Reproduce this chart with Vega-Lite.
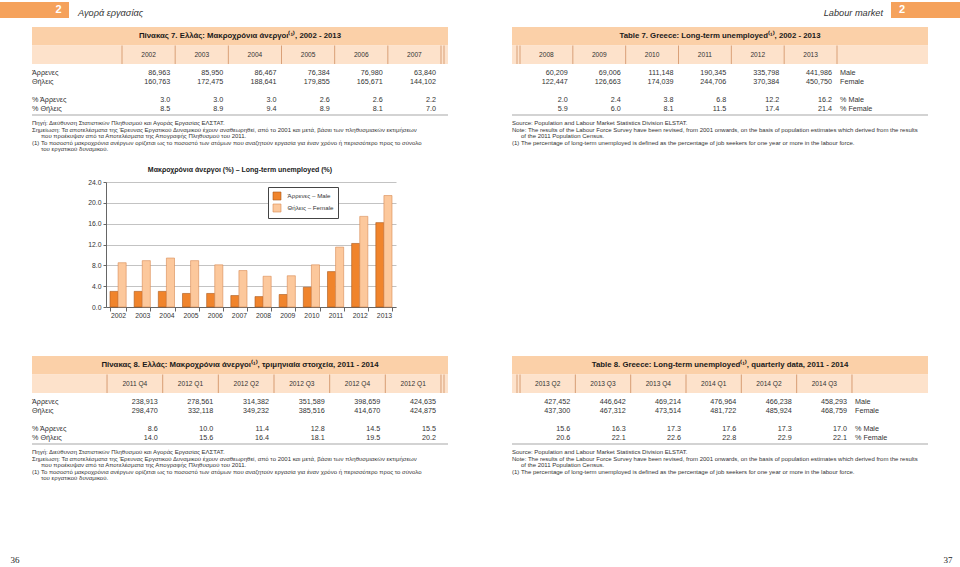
{
"$schema":"https://vega.github.io/schema/vega-lite/v6.json",
"background":"white",
"padding":{"left":0,"top":2,"right":0,"bottom":0},
"spacing":0,
"bounds":"flush",
"config":{"font":"Liberation Sans","view":{"stroke":null}},
"datasets":{
"t7":[
{"s":"el","c":"c1","h":"2002","row":"Άρρενες","v":86963},{"s":"el","c":"c1","h":"2002","row":"Θήλεις","v":160763},{"s":"el","c":"c1","h":"2002","row":"% Άρρενες","v":3.0},{"s":"el","c":"c1","h":"2002","row":"% Θήλεις","v":8.5},
{"s":"el","c":"c2","h":"2003","row":"Άρρενες","v":85950},{"s":"el","c":"c2","h":"2003","row":"Θήλεις","v":172475},{"s":"el","c":"c2","h":"2003","row":"% Άρρενες","v":3.0},{"s":"el","c":"c2","h":"2003","row":"% Θήλεις","v":8.9},
{"s":"el","c":"c3","h":"2004","row":"Άρρενες","v":86467},{"s":"el","c":"c3","h":"2004","row":"Θήλεις","v":188641},{"s":"el","c":"c3","h":"2004","row":"% Άρρενες","v":3.0},{"s":"el","c":"c3","h":"2004","row":"% Θήλεις","v":9.4},
{"s":"el","c":"c4","h":"2005","row":"Άρρενες","v":76384},{"s":"el","c":"c4","h":"2005","row":"Θήλεις","v":179855},{"s":"el","c":"c4","h":"2005","row":"% Άρρενες","v":2.6},{"s":"el","c":"c4","h":"2005","row":"% Θήλεις","v":8.9},
{"s":"el","c":"c5","h":"2006","row":"Άρρενες","v":76980},{"s":"el","c":"c5","h":"2006","row":"Θήλεις","v":165671},{"s":"el","c":"c5","h":"2006","row":"% Άρρενες","v":2.6},{"s":"el","c":"c5","h":"2006","row":"% Θήλεις","v":8.1},
{"s":"el","c":"c6","h":"2007","row":"Άρρενες","v":63840},{"s":"el","c":"c6","h":"2007","row":"Θήλεις","v":144102},{"s":"el","c":"c6","h":"2007","row":"% Άρρενες","v":2.2},{"s":"el","c":"c6","h":"2007","row":"% Θήλεις","v":7.0},
{"s":"en","c":"c1","h":"2008","row":"Άρρενες","v":60209},{"s":"en","c":"c1","h":"2008","row":"Θήλεις","v":122447},{"s":"en","c":"c1","h":"2008","row":"% Άρρενες","v":2.0},{"s":"en","c":"c1","h":"2008","row":"% Θήλεις","v":5.9},
{"s":"en","c":"c2","h":"2009","row":"Άρρενες","v":69006},{"s":"en","c":"c2","h":"2009","row":"Θήλεις","v":126663},{"s":"en","c":"c2","h":"2009","row":"% Άρρενες","v":2.4},{"s":"en","c":"c2","h":"2009","row":"% Θήλεις","v":6.0},
{"s":"en","c":"c3","h":"2010","row":"Άρρενες","v":111148},{"s":"en","c":"c3","h":"2010","row":"Θήλεις","v":174039},{"s":"en","c":"c3","h":"2010","row":"% Άρρενες","v":3.8},{"s":"en","c":"c3","h":"2010","row":"% Θήλεις","v":8.1},
{"s":"en","c":"c4","h":"2011","row":"Άρρενες","v":190345},{"s":"en","c":"c4","h":"2011","row":"Θήλεις","v":244706},{"s":"en","c":"c4","h":"2011","row":"% Άρρενες","v":6.8},{"s":"en","c":"c4","h":"2011","row":"% Θήλεις","v":11.5},
{"s":"en","c":"c5","h":"2012","row":"Άρρενες","v":335798},{"s":"en","c":"c5","h":"2012","row":"Θήλεις","v":370384},{"s":"en","c":"c5","h":"2012","row":"% Άρρενες","v":12.2},{"s":"en","c":"c5","h":"2012","row":"% Θήλεις","v":17.4},
{"s":"en","c":"c6","h":"2013","row":"Άρρενες","v":441986},{"s":"en","c":"c6","h":"2013","row":"Θήλεις","v":450750},{"s":"en","c":"c6","h":"2013","row":"% Άρρενες","v":16.2},{"s":"en","c":"c6","h":"2013","row":"% Θήλεις","v":21.4}
],
"t8":[
{"s":"el","c":"c1","h":"2011 Q4","row":"Άρρενες","v":238913},{"s":"el","c":"c1","h":"2011 Q4","row":"Θήλεις","v":298470},{"s":"el","c":"c1","h":"2011 Q4","row":"% Άρρενες","v":8.6},{"s":"el","c":"c1","h":"2011 Q4","row":"% Θήλεις","v":14.0},
{"s":"el","c":"c2","h":"2012 Q1","row":"Άρρενες","v":278561},{"s":"el","c":"c2","h":"2012 Q1","row":"Θήλεις","v":332118},{"s":"el","c":"c2","h":"2012 Q1","row":"% Άρρενες","v":10.0},{"s":"el","c":"c2","h":"2012 Q1","row":"% Θήλεις","v":15.6},
{"s":"el","c":"c3","h":"2012 Q2","row":"Άρρενες","v":314382},{"s":"el","c":"c3","h":"2012 Q2","row":"Θήλεις","v":349232},{"s":"el","c":"c3","h":"2012 Q2","row":"% Άρρενες","v":11.4},{"s":"el","c":"c3","h":"2012 Q2","row":"% Θήλεις","v":16.4},
{"s":"el","c":"c4","h":"2012 Q3","row":"Άρρενες","v":351589},{"s":"el","c":"c4","h":"2012 Q3","row":"Θήλεις","v":385516},{"s":"el","c":"c4","h":"2012 Q3","row":"% Άρρενες","v":12.8},{"s":"el","c":"c4","h":"2012 Q3","row":"% Θήλεις","v":18.1},
{"s":"el","c":"c5","h":"2012 Q4","row":"Άρρενες","v":398659},{"s":"el","c":"c5","h":"2012 Q4","row":"Θήλεις","v":414670},{"s":"el","c":"c5","h":"2012 Q4","row":"% Άρρενες","v":14.5},{"s":"el","c":"c5","h":"2012 Q4","row":"% Θήλεις","v":19.5},
{"s":"el","c":"c6","h":"2012 Q1","row":"Άρρενες","v":424635},{"s":"el","c":"c6","h":"2012 Q1","row":"Θήλεις","v":424875},{"s":"el","c":"c6","h":"2012 Q1","row":"% Άρρενες","v":15.5},{"s":"el","c":"c6","h":"2012 Q1","row":"% Θήλεις","v":20.2},
{"s":"en","c":"c1","h":"2013 Q2","row":"Άρρενες","v":427452},{"s":"en","c":"c1","h":"2013 Q2","row":"Θήλεις","v":437300},{"s":"en","c":"c1","h":"2013 Q2","row":"% Άρρενες","v":15.6},{"s":"en","c":"c1","h":"2013 Q2","row":"% Θήλεις","v":20.6},
{"s":"en","c":"c2","h":"2013 Q3","row":"Άρρενες","v":446642},{"s":"en","c":"c2","h":"2013 Q3","row":"Θήλεις","v":467312},{"s":"en","c":"c2","h":"2013 Q3","row":"% Άρρενες","v":16.3},{"s":"en","c":"c2","h":"2013 Q3","row":"% Θήλεις","v":22.1},
{"s":"en","c":"c3","h":"2013 Q4","row":"Άρρενες","v":469214},{"s":"en","c":"c3","h":"2013 Q4","row":"Θήλεις","v":473514},{"s":"en","c":"c3","h":"2013 Q4","row":"% Άρρενες","v":17.3},{"s":"en","c":"c3","h":"2013 Q4","row":"% Θήλεις","v":22.6},
{"s":"en","c":"c4","h":"2014 Q1","row":"Άρρενες","v":476964},{"s":"en","c":"c4","h":"2014 Q1","row":"Θήλεις","v":481722},{"s":"en","c":"c4","h":"2014 Q1","row":"% Άρρενες","v":17.6},{"s":"en","c":"c4","h":"2014 Q1","row":"% Θήλεις","v":22.8},
{"s":"en","c":"c5","h":"2014 Q2","row":"Άρρενες","v":466238},{"s":"en","c":"c5","h":"2014 Q2","row":"Θήλεις","v":485924},{"s":"en","c":"c5","h":"2014 Q2","row":"% Άρρενες","v":17.3},{"s":"en","c":"c5","h":"2014 Q2","row":"% Θήλεις","v":22.9},
{"s":"en","c":"c6","h":"2014 Q3","row":"Άρρενες","v":458293},{"s":"en","c":"c6","h":"2014 Q3","row":"Θήλεις","v":468759},{"s":"en","c":"c6","h":"2014 Q3","row":"% Άρρενες","v":17.0},{"s":"en","c":"c6","h":"2014 Q3","row":"% Θήλεις","v":22.1}
],
"labels":[{"row":"Άρρενες","en":"Male"},{"row":"Θήλεις","en":"Female"},{"row":"% Άρρενες","en":"% Male"},{"row":"% Θήλεις","en":"% Female"}],
"titles":[
{"tbl":"7","lang":"el","t":"Πίνακας 7. Ελλάς: Μακροχρόνια άνεργοι⁽¹⁾, 2002 - 2013"},
{"tbl":"7","lang":"en","t":"Table 7. Greece: Long-term unemployed⁽¹⁾, 2002 - 2013"},
{"tbl":"8","lang":"el","t":"Πίνακας 8. Ελλάς: Μακροχρόνια άνεργοι⁽¹⁾, τριμηνιαία στοιχεία, 2011 - 2014"},
{"tbl":"8","lang":"en","t":"Table 8. Greece: Long-term unemployed⁽¹⁾, quarterly data, 2011 - 2014"}],
"notes":[
{"lang":"el","ln":"n1","ind":0,"t":"Πηγή: Διεύθυνση Στατιστικών Πληθυσμού και Αγοράς Εργασίας ΕΛΣΤΑΤ."},
{"lang":"el","ln":"n2","ind":0,"t":"Σημείωση: Τα αποτελέσματα της Έρευνας Εργατικού Δυναμικού έχουν αναθεωρηθεί, από το 2001 και μετά, βάσει των πληθυσμιακών εκτιμήσεων"},
{"lang":"el","ln":"n3","ind":1,"t":"που προέκυψαν από τα Αποτελέσματα της Απογραφής Πληθυσμού του 2011."},
{"lang":"el","ln":"n4","ind":0,"t":"(1)  Το ποσοστό μακροχρόνια ανέργων ορίζεται ως το ποσοστό των ατόμων που αναζητούν εργασία για έναν χρόνο ή περισσότερο προς το σύνολο"},
{"lang":"el","ln":"n5","ind":1,"t":"του εργατικού δυναμικού."},
{"lang":"en","ln":"n1","ind":0,"t":"Source: Population and Labour Market Statistics Division ELSTAT."},
{"lang":"en","ln":"n2","ind":0,"t":"Note: The results of the Labour Force Survey have been revised, from 2001 onwards, on the basis of population estimates which derived from the results"},
{"lang":"en","ln":"n3","ind":1,"t":"of the 2011 Population Census."},
{"lang":"en","ln":"n4","ind":0,"t":"(1)  The percentage of long-term unemployed is defined as the percentage of job seekers for one year or more in the labour force."}]
},
"vconcat":[
{"width":960,"height":16,
 "resolve":{"scale":{"x":"independent"}},
 "layer":[
  {"data":{"values":[{"p":"36","n":"2","t":"Αγορά εργασίας"}]},
   "layer":[
    {"mark":{"type":"rect","color":"#f5a25c"},
     "encoding":{"x":{"field":"p","type":"nominal","scale":{"type":"band","domain":["36"],"range":[0,69],"paddingInner":0,"paddingOuter":0},"axis":null}}},
    {"mark":{"type":"text","color":"#ffffff","fontWeight":"bold","fontSize":11,"baseline":"middle"},
     "encoding":{"x":{"field":"p","type":"nominal","scale":{"type":"band","domain":["36"],"range":[0,69],"paddingInner":0,"paddingOuter":0},"axis":null,"bandPosition":0.85},"text":{"field":"n"}}},
    {"mark":{"type":"text","color":"#333333","fontStyle":"italic","fontSize":9.2,"align":"left","baseline":"alphabetic","dx":9,"dy":6},
     "encoding":{"x":{"field":"p","type":"nominal","scale":{"type":"band","domain":["36"],"range":[0,69],"paddingInner":0,"paddingOuter":0},"axis":null,"bandPosition":1},"text":{"field":"t"}}}
   ]},
  {"data":{"values":[{"p":"37","n":"2","t":"Labour market"}]},
   "layer":[
    {"mark":{"type":"rect","color":"#f5a25c"},
     "encoding":{"x":{"field":"p","type":"nominal","scale":{"type":"band","domain":["37"],"range":[891,960],"paddingInner":0,"paddingOuter":0},"axis":null}}},
    {"mark":{"type":"text","color":"#ffffff","fontWeight":"bold","fontSize":11,"baseline":"middle"},
     "encoding":{"x":{"field":"p","type":"nominal","scale":{"type":"band","domain":["37"],"range":[891,960],"paddingInner":0,"paddingOuter":0},"axis":null,"bandPosition":0.16},"text":{"field":"n"}}},
    {"mark":{"type":"text","color":"#333333","fontStyle":"italic","fontSize":9.2,"align":"right","baseline":"alphabetic","dx":-8,"dy":6},
     "encoding":{"x":{"field":"p","type":"nominal","scale":{"type":"band","domain":["37"],"range":[891,960],"paddingInner":0,"paddingOuter":0},"axis":null,"bandPosition":0},"text":{"field":"t"}}}
   ]}
 ]},
{"width":960,"height":164,
 "resolve":{"scale":{"x":"independent","y":"independent","color":"independent"}},
 "layer":[
  {"data":{"values":[{"lang":"el","band":"title"},{"lang":"el","band":"header"},{"lang":"en","band":"title"},{"lang":"en","band":"header"}]},
   "mark":"rect",
   "encoding":{"x":{"field":"lang","type":"nominal","scale":{"type":"band","domain":["el","en"],"range":[32,928],"paddingInner":0.13333,"paddingOuter":0},"axis":null},
    "y":{"field":"band","type":"nominal","scale":{"type":"band","domain":["title","header"],"range":[9,46],"paddingInner":0,"paddingOuter":0},"axis":null},
    "color":{"field":"band","type":"nominal","scale":{"domain":["title","header"],"range":["#fbd0a8","#fde2cb"]},"legend":null}}},
  {"data":{"name":"titles"},"transform":[{"filter":{"field":"tbl","equal":"7"}}],
   "mark":{"type":"text","fontWeight":"bold","fontSize":7.8,"color":"#1a1a1a"},
   "encoding":{"x":{"field":"lang","type":"nominal","scale":{"type":"band","domain":["el","en"],"range":[32,928],"paddingInner":0.13333,"paddingOuter":0},"axis":null,"bandPosition":0.5},
    "y":{"datum":"title","type":"nominal","scale":{"type":"band","domain":["title","header"],"range":[9,46],"paddingInner":0,"paddingOuter":0},"axis":null,"bandPosition":0.5},
    "text":{"field":"t"}}},
  {"data":{"values":[{"b":"b0"},{"b":"b1"},{"b":"b2"},{"b":"b3"},{"b":"b4"},{"b":"b5"},{"b":"b6"}]},
   "mark":{"type":"rect","color":"#d9a078"},
   "encoding":{"x":{"field":"b","type":"nominal","scale":{"type":"band","domain":["b0","b1","b2","b3","b4","b5","b6"],"range":[121.5,441.5],"paddingInner":0.981,"paddingOuter":0},"axis":null},
    "y":{"datum":"header","type":"nominal","scale":{"type":"band","domain":["title","header"],"range":[9,46],"paddingInner":0,"paddingOuter":0},"axis":null}}},
  {"data":{"values":[{"b":"b0"},{"b":"b1"},{"b":"b2"},{"b":"b3"},{"b":"b4"},{"b":"b5"},{"b":"b6"}]},
   "mark":{"type":"rect","color":"#d9a078"},
   "encoding":{"x":{"field":"b","type":"nominal","scale":{"type":"band","domain":["b0","b1","b2","b3","b4","b5","b6"],"range":[519.5,837.5],"paddingInner":0.981,"paddingOuter":0},"axis":null},
    "y":{"datum":"header","type":"nominal","scale":{"type":"band","domain":["title","header"],"range":[9,46],"paddingInner":0,"paddingOuter":0},"axis":null}}},
  {"data":{"values":[{"d":"el"},{"d":"en"}]},
   "mark":{"type":"rect","color":"#d9a078"},
   "encoding":{"x":{"field":"d","type":"nominal","scale":{"type":"band","domain":["el","en"],"range":[443.5,517.5],"paddingInner":0.9863,"paddingOuter":0},"axis":null},
    "y":{"datum":"header","type":"nominal","scale":{"type":"band","domain":["title","header"],"range":[9,46],"paddingInner":0,"paddingOuter":0},"axis":null}}},
  {"data":{"name":"t7"},"transform":[{"filter":{"field":"s","equal":"el"}},{"filter":{"field":"row","equal":"Άρρενες"}}],
   "mark":{"type":"text","fontSize":6.6,"color":"#333333"},
   "encoding":{"x":{"field":"c","type":"nominal","scale":{"type":"band","domain":["c1","c2","c3","c4","c5","c6"],"range":[122,441],"paddingInner":0,"paddingOuter":0},"axis":null,"bandPosition":0.5},
    "y":{"datum":"header","type":"nominal","scale":{"type":"band","domain":["title","header"],"range":[9,46],"paddingInner":0,"paddingOuter":0},"axis":null,"bandPosition":0.5},
    "text":{"field":"h"}}},
  {"data":{"name":"t7"},"transform":[{"filter":{"field":"s","equal":"en"}},{"filter":{"field":"row","equal":"Άρρενες"}}],
   "mark":{"type":"text","fontSize":6.6,"color":"#333333"},
   "encoding":{"x":{"field":"c","type":"nominal","scale":{"type":"band","domain":["c1","c2","c3","c4","c5","c6"],"range":[520,837],"paddingInner":0,"paddingOuter":0},"axis":null,"bandPosition":0.5},
    "y":{"datum":"header","type":"nominal","scale":{"type":"band","domain":["title","header"],"range":[9,46],"paddingInner":0,"paddingOuter":0},"axis":null,"bandPosition":0.5},
    "text":{"field":"h"}}},
  {"data":{"name":"t7"},"transform":[{"filter":{"field":"s","equal":"el"}},{"filter":{"field":"row","oneOf":["Άρρενες","Θήλεις"]}}],
   "mark":{"type":"text","fontSize":7.2,"align":"right","dx":-5,"color":"#333333"},
   "encoding":{"x":{"field":"c","type":"nominal","scale":{"type":"band","domain":["c1","c2","c3","c4","c5","c6"],"range":[122,441],"paddingInner":0,"paddingOuter":0},"axis":null,"bandPosition":1},
    "y":{"field":"row","type":"nominal","scale":{"type":"point","domain":["Άρρενες","Θήλεις","gap","% Άρρενες","% Θήλεις"],"range":[55,91],"padding":0},"axis":null},
    "text":{"field":"v","type":"quantitative","format":","}}},
  {"data":{"name":"t7"},"transform":[{"filter":{"field":"s","equal":"el"}},{"filter":{"field":"row","oneOf":["% Άρρενες","% Θήλεις"]}}],
   "mark":{"type":"text","fontSize":7.2,"align":"right","dx":-5,"color":"#333333"},
   "encoding":{"x":{"field":"c","type":"nominal","scale":{"type":"band","domain":["c1","c2","c3","c4","c5","c6"],"range":[122,441],"paddingInner":0,"paddingOuter":0},"axis":null,"bandPosition":1},
    "y":{"field":"row","type":"nominal","scale":{"type":"point","domain":["Άρρενες","Θήλεις","gap","% Άρρενες","% Θήλεις"],"range":[55,91],"padding":0},"axis":null},
    "text":{"field":"v","type":"quantitative","format":".1f"}}},
  {"data":{"name":"t7"},"transform":[{"filter":{"field":"s","equal":"en"}},{"filter":{"field":"row","oneOf":["Άρρενες","Θήλεις"]}}],
   "mark":{"type":"text","fontSize":7.2,"align":"right","dx":-5,"color":"#333333"},
   "encoding":{"x":{"field":"c","type":"nominal","scale":{"type":"band","domain":["c1","c2","c3","c4","c5","c6"],"range":[520,837],"paddingInner":0,"paddingOuter":0},"axis":null,"bandPosition":1},
    "y":{"field":"row","type":"nominal","scale":{"type":"point","domain":["Άρρενες","Θήλεις","gap","% Άρρενες","% Θήλεις"],"range":[55,91],"padding":0},"axis":null},
    "text":{"field":"v","type":"quantitative","format":","}}},
  {"data":{"name":"t7"},"transform":[{"filter":{"field":"s","equal":"en"}},{"filter":{"field":"row","oneOf":["% Άρρενες","% Θήλεις"]}}],
   "mark":{"type":"text","fontSize":7.2,"align":"right","dx":-5,"color":"#333333"},
   "encoding":{"x":{"field":"c","type":"nominal","scale":{"type":"band","domain":["c1","c2","c3","c4","c5","c6"],"range":[520,837],"paddingInner":0,"paddingOuter":0},"axis":null,"bandPosition":1},
    "y":{"field":"row","type":"nominal","scale":{"type":"point","domain":["Άρρενες","Θήλεις","gap","% Άρρενες","% Θήλεις"],"range":[55,91],"padding":0},"axis":null},
    "text":{"field":"v","type":"quantitative","format":".1f"}}},
  {"data":{"name":"labels"},
   "mark":{"type":"text","fontSize":7.2,"align":"left","color":"#333333"},
   "encoding":{"x":{"datum":"el","type":"nominal","scale":{"type":"band","domain":["el","en"],"range":[32,928],"paddingInner":0.13333,"paddingOuter":0},"axis":null,"bandPosition":0},
    "y":{"field":"row","type":"nominal","scale":{"type":"point","domain":["Άρρενες","Θήλεις","gap","% Άρρενες","% Θήλεις"],"range":[55,91],"padding":0},"axis":null},
    "text":{"field":"row"}}},
  {"data":{"name":"labels"},
   "mark":{"type":"text","fontSize":7.2,"align":"left","dx":3,"color":"#333333"},
   "encoding":{"x":{"datum":"c6","type":"nominal","scale":{"type":"band","domain":["c1","c2","c3","c4","c5","c6"],"range":[520,837],"paddingInner":0,"paddingOuter":0},"axis":null,"bandPosition":1},
    "y":{"field":"row","type":"nominal","scale":{"type":"point","domain":["Άρρενες","Θήλεις","gap","% Άρρενες","% Θήλεις"],"range":[55,91],"padding":0},"axis":null},
    "text":{"field":"en"}}},
  {"data":{"values":[{"lang":"el"},{"lang":"en"}]},
   "mark":{"type":"rect","color":"#a8a8a8"},
   "encoding":{"x":{"field":"lang","type":"nominal","scale":{"type":"band","domain":["el","en"],"range":[32,928],"paddingInner":0.13333,"paddingOuter":0},"axis":null},
    "y":{"datum":"r","type":"nominal","scale":{"type":"band","domain":["r"],"range":[96.5,97.5],"paddingInner":0,"paddingOuter":0},"axis":null}}},
  {"data":{"name":"notes"},"transform":[{"filter":{"field":"ind","equal":0}}],
   "mark":{"type":"text","fontSize":6,"align":"left","color":"#333333"},
   "encoding":{"x":{"field":"lang","type":"nominal","scale":{"type":"band","domain":["el","en"],"range":[32,928],"paddingInner":0.13333,"paddingOuter":0},"axis":null,"bandPosition":0},
    "y":{"field":"ln","type":"nominal","scale":{"type":"point","domain":["n1","n2","n3","n4","n5"],"range":[105,131],"padding":0},"axis":null},
    "text":{"field":"t"}}},
  {"data":{"name":"notes"},"transform":[{"filter":{"field":"ind","equal":1}}],
   "mark":{"type":"text","fontSize":6,"align":"left","dx":9,"color":"#333333"},
   "encoding":{"x":{"field":"lang","type":"nominal","scale":{"type":"band","domain":["el","en"],"range":[32,928],"paddingInner":0.13333,"paddingOuter":0},"axis":null,"bandPosition":0},
    "y":{"field":"ln","type":"nominal","scale":{"type":"point","domain":["n1","n2","n3","n4","n5"],"range":[105,131],"padding":0},"axis":null},
    "text":{"field":"t"}}}
 ]},
{"width":396,"height":125,
 "data":{"name":"t7"},
 "transform":[{"filter":{"field":"row","oneOf":["% Άρρενες","% Θήλεις"]}}],
 "title":{"text":"Μακροχρόνια άνεργοι (%) – Long-term unemployed (%)","fontSize":7,"fontWeight":"bold","frame":"group","anchor":"middle","dx":42,"offset":6,"color":"#1a1a1a"},
 "mark":{"type":"bar","strokeWidth":0.6},
 "encoding":{
  "x":{"field":"h","type":"nominal","sort":null,"scale":{"range":[106,396],"paddingInner":0.33,"paddingOuter":0.165},
    "axis":{"title":null,"labelAngle":0,"tickBand":"extent","tickSize":4,"labelFontSize":6.8,"labelPadding":1,"domainColor":"#666666","tickColor":"#666666","labelColor":"#333333"}},
  "xOffset":{"field":"row","type":"nominal","scale":{"domain":["% Άρρενες","% Θήλεις"]}},
  "y":{"field":"v","type":"quantitative","scale":{"domain":[0,24],"nice":false},
    "axis":{"title":null,"offset":-106,"values":[0,4,8,12,16,20,24],"format":".1f","tickSize":3,"labelPadding":2,"labelFontSize":6.8,"gridColor":"#9a9a9a","gridWidth":0.6,"domainColor":"#666666","tickColor":"#666666","labelColor":"#333333"}},
  "color":{"field":"row","type":"nominal","scale":{"domain":["% Άρρενες","% Θήλεις"],"range":["#f0842c","#fcc89c"]},
    "legend":{"title":null,"orient":"none","legendX":268,"legendY":185,"direction":"vertical","strokeColor":"#444444","fillColor":"#ffffff","padding":4.5,"symbolType":"square","symbolSize":64,"symbolStrokeColor":"#9a5520","symbolStrokeWidth":0.6,"labelFontSize":6.2,"labelOffset":6,"rowPadding":1,"labelColor":"#333333","labelExpr":"datum.label == '% Άρρενες' ? 'Άρρενες – Male' : 'Θήλεις – Female'"}},
  "stroke":{"field":"row","type":"nominal","scale":{"domain":["% Άρρενες","% Θήλεις"],"range":["#a9591c","#d98a52"]},"legend":null}
 }},
{"width":960,"height":260,
 "resolve":{"scale":{"x":"independent","y":"independent","color":"independent"}},
 "layer":[
  {"data":{"values":[{"lang":"el","band":"title"},{"lang":"el","band":"header"},{"lang":"en","band":"title"},{"lang":"en","band":"header"}]},
   "mark":"rect",
   "encoding":{"x":{"field":"lang","type":"nominal","scale":{"type":"band","domain":["el","en"],"range":[32,928],"paddingInner":0.13333,"paddingOuter":0},"axis":null},
    "y":{"field":"band","type":"nominal","scale":{"type":"band","domain":["title","header"],"range":[49,86],"paddingInner":0,"paddingOuter":0},"axis":null},
    "color":{"field":"band","type":"nominal","scale":{"domain":["title","header"],"range":["#fbd0a8","#fde2cb"]},"legend":null}}},
  {"data":{"name":"titles"},"transform":[{"filter":{"field":"tbl","equal":"8"}}],
   "mark":{"type":"text","fontWeight":"bold","fontSize":7.8,"color":"#1a1a1a"},
   "encoding":{"x":{"field":"lang","type":"nominal","scale":{"type":"band","domain":["el","en"],"range":[32,928],"paddingInner":0.13333,"paddingOuter":0},"axis":null,"bandPosition":0.5},
    "y":{"datum":"title","type":"nominal","scale":{"type":"band","domain":["title","header"],"range":[49,86],"paddingInner":0,"paddingOuter":0},"axis":null,"bandPosition":0.5},
    "text":{"field":"t"}}},
  {"data":{"values":[{"b":"b0"},{"b":"b1"},{"b":"b2"},{"b":"b3"},{"b":"b4"},{"b":"b5"},{"b":"b6"}]},
   "mark":{"type":"rect","color":"#d9a078"},
   "encoding":{"x":{"field":"b","type":"nominal","scale":{"type":"band","domain":["b0","b1","b2","b3","b4","b5","b6"],"range":[106.5,441.5],"paddingInner":0.981,"paddingOuter":0},"axis":null},
    "y":{"datum":"header","type":"nominal","scale":{"type":"band","domain":["title","header"],"range":[49,86],"paddingInner":0,"paddingOuter":0},"axis":null}}},
  {"data":{"values":[{"b":"b0"},{"b":"b1"},{"b":"b2"},{"b":"b3"},{"b":"b4"},{"b":"b5"},{"b":"b6"}]},
   "mark":{"type":"rect","color":"#d9a078"},
   "encoding":{"x":{"field":"b","type":"nominal","scale":{"type":"band","domain":["b0","b1","b2","b3","b4","b5","b6"],"range":[519.5,852.5],"paddingInner":0.981,"paddingOuter":0},"axis":null},
    "y":{"datum":"header","type":"nominal","scale":{"type":"band","domain":["title","header"],"range":[49,86],"paddingInner":0,"paddingOuter":0},"axis":null}}},
  {"data":{"values":[{"d":"el"},{"d":"en"}]},
   "mark":{"type":"rect","color":"#d9a078"},
   "encoding":{"x":{"field":"d","type":"nominal","scale":{"type":"band","domain":["el","en"],"range":[443.5,517.5],"paddingInner":0.9863,"paddingOuter":0},"axis":null},
    "y":{"datum":"header","type":"nominal","scale":{"type":"band","domain":["title","header"],"range":[49,86],"paddingInner":0,"paddingOuter":0},"axis":null}}},
  {"data":{"name":"t8"},"transform":[{"filter":{"field":"s","equal":"el"}},{"filter":{"field":"row","equal":"Άρρενες"}}],
   "mark":{"type":"text","fontSize":6.6,"color":"#333333"},
   "encoding":{"x":{"field":"c","type":"nominal","scale":{"type":"band","domain":["c1","c2","c3","c4","c5","c6"],"range":[107,441],"paddingInner":0,"paddingOuter":0},"axis":null,"bandPosition":0.5},
    "y":{"datum":"header","type":"nominal","scale":{"type":"band","domain":["title","header"],"range":[49,86],"paddingInner":0,"paddingOuter":0},"axis":null,"bandPosition":0.5},
    "text":{"field":"h"}}},
  {"data":{"name":"t8"},"transform":[{"filter":{"field":"s","equal":"en"}},{"filter":{"field":"row","equal":"Άρρενες"}}],
   "mark":{"type":"text","fontSize":6.6,"color":"#333333"},
   "encoding":{"x":{"field":"c","type":"nominal","scale":{"type":"band","domain":["c1","c2","c3","c4","c5","c6"],"range":[520,852],"paddingInner":0,"paddingOuter":0},"axis":null,"bandPosition":0.5},
    "y":{"datum":"header","type":"nominal","scale":{"type":"band","domain":["title","header"],"range":[49,86],"paddingInner":0,"paddingOuter":0},"axis":null,"bandPosition":0.5},
    "text":{"field":"h"}}},
  {"data":{"name":"t8"},"transform":[{"filter":{"field":"s","equal":"el"}},{"filter":{"field":"row","oneOf":["Άρρενες","Θήλεις"]}}],
   "mark":{"type":"text","fontSize":7.2,"align":"right","dx":-5,"color":"#333333"},
   "encoding":{"x":{"field":"c","type":"nominal","scale":{"type":"band","domain":["c1","c2","c3","c4","c5","c6"],"range":[107,441],"paddingInner":0,"paddingOuter":0},"axis":null,"bandPosition":1},
    "y":{"field":"row","type":"nominal","scale":{"type":"point","domain":["Άρρενες","Θήλεις","gap","% Άρρενες","% Θήλεις"],"range":[95,131],"padding":0},"axis":null},
    "text":{"field":"v","type":"quantitative","format":","}}},
  {"data":{"name":"t8"},"transform":[{"filter":{"field":"s","equal":"el"}},{"filter":{"field":"row","oneOf":["% Άρρενες","% Θήλεις"]}}],
   "mark":{"type":"text","fontSize":7.2,"align":"right","dx":-5,"color":"#333333"},
   "encoding":{"x":{"field":"c","type":"nominal","scale":{"type":"band","domain":["c1","c2","c3","c4","c5","c6"],"range":[107,441],"paddingInner":0,"paddingOuter":0},"axis":null,"bandPosition":1},
    "y":{"field":"row","type":"nominal","scale":{"type":"point","domain":["Άρρενες","Θήλεις","gap","% Άρρενες","% Θήλεις"],"range":[95,131],"padding":0},"axis":null},
    "text":{"field":"v","type":"quantitative","format":".1f"}}},
  {"data":{"name":"t8"},"transform":[{"filter":{"field":"s","equal":"en"}},{"filter":{"field":"row","oneOf":["Άρρενες","Θήλεις"]}}],
   "mark":{"type":"text","fontSize":7.2,"align":"right","dx":-5,"color":"#333333"},
   "encoding":{"x":{"field":"c","type":"nominal","scale":{"type":"band","domain":["c1","c2","c3","c4","c5","c6"],"range":[520,852],"paddingInner":0,"paddingOuter":0},"axis":null,"bandPosition":1},
    "y":{"field":"row","type":"nominal","scale":{"type":"point","domain":["Άρρενες","Θήλεις","gap","% Άρρενες","% Θήλεις"],"range":[95,131],"padding":0},"axis":null},
    "text":{"field":"v","type":"quantitative","format":","}}},
  {"data":{"name":"t8"},"transform":[{"filter":{"field":"s","equal":"en"}},{"filter":{"field":"row","oneOf":["% Άρρενες","% Θήλεις"]}}],
   "mark":{"type":"text","fontSize":7.2,"align":"right","dx":-5,"color":"#333333"},
   "encoding":{"x":{"field":"c","type":"nominal","scale":{"type":"band","domain":["c1","c2","c3","c4","c5","c6"],"range":[520,852],"paddingInner":0,"paddingOuter":0},"axis":null,"bandPosition":1},
    "y":{"field":"row","type":"nominal","scale":{"type":"point","domain":["Άρρενες","Θήλεις","gap","% Άρρενες","% Θήλεις"],"range":[95,131],"padding":0},"axis":null},
    "text":{"field":"v","type":"quantitative","format":".1f"}}},
  {"data":{"name":"labels"},
   "mark":{"type":"text","fontSize":7.2,"align":"left","color":"#333333"},
   "encoding":{"x":{"datum":"el","type":"nominal","scale":{"type":"band","domain":["el","en"],"range":[32,928],"paddingInner":0.13333,"paddingOuter":0},"axis":null,"bandPosition":0},
    "y":{"field":"row","type":"nominal","scale":{"type":"point","domain":["Άρρενες","Θήλεις","gap","% Άρρενες","% Θήλεις"],"range":[95,131],"padding":0},"axis":null},
    "text":{"field":"row"}}},
  {"data":{"name":"labels"},
   "mark":{"type":"text","fontSize":7.2,"align":"left","dx":3,"color":"#333333"},
   "encoding":{"x":{"datum":"c6","type":"nominal","scale":{"type":"band","domain":["c1","c2","c3","c4","c5","c6"],"range":[520,852],"paddingInner":0,"paddingOuter":0},"axis":null,"bandPosition":1},
    "y":{"field":"row","type":"nominal","scale":{"type":"point","domain":["Άρρενες","Θήλεις","gap","% Άρρενες","% Θήλεις"],"range":[95,131],"padding":0},"axis":null},
    "text":{"field":"en"}}},
  {"data":{"values":[{"lang":"el"},{"lang":"en"}]},
   "mark":{"type":"rect","color":"#a8a8a8"},
   "encoding":{"x":{"field":"lang","type":"nominal","scale":{"type":"band","domain":["el","en"],"range":[32,928],"paddingInner":0.13333,"paddingOuter":0},"axis":null},
    "y":{"datum":"r","type":"nominal","scale":{"type":"band","domain":["r"],"range":[136.5,137.5],"paddingInner":0,"paddingOuter":0},"axis":null}}},
  {"data":{"name":"notes"},"transform":[{"filter":{"field":"ind","equal":0}}],
   "mark":{"type":"text","fontSize":6,"align":"left","color":"#333333"},
   "encoding":{"x":{"field":"lang","type":"nominal","scale":{"type":"band","domain":["el","en"],"range":[32,928],"paddingInner":0.13333,"paddingOuter":0},"axis":null,"bandPosition":0},
    "y":{"field":"ln","type":"nominal","scale":{"type":"point","domain":["n1","n2","n3","n4","n5"],"range":[145,171],"padding":0},"axis":null},
    "text":{"field":"t"}}},
  {"data":{"name":"notes"},"transform":[{"filter":{"field":"ind","equal":1}}],
   "mark":{"type":"text","fontSize":6,"align":"left","dx":9,"color":"#333333"},
   "encoding":{"x":{"field":"lang","type":"nominal","scale":{"type":"band","domain":["el","en"],"range":[32,928],"paddingInner":0.13333,"paddingOuter":0},"axis":null,"bandPosition":0},
    "y":{"field":"ln","type":"nominal","scale":{"type":"point","domain":["n1","n2","n3","n4","n5"],"range":[145,171],"padding":0},"axis":null},
    "text":{"field":"t"}}},
  {"data":{"values":[{"p":"36"},{"p":"37"}]},
   "mark":{"type":"text","fontSize":9,"font":"Liberation Sans Narrow","color":"#222222"},
   "encoding":{"x":{"field":"p","type":"nominal","scale":{"type":"point","domain":["36","37"],"range":[15,948],"padding":0},"axis":null},
    "y":{"datum":"p","type":"nominal","scale":{"type":"point","domain":["p"],"range":[253,253],"padding":0},"axis":null},
    "text":{"field":"p"}}}
 ]}
]
}
